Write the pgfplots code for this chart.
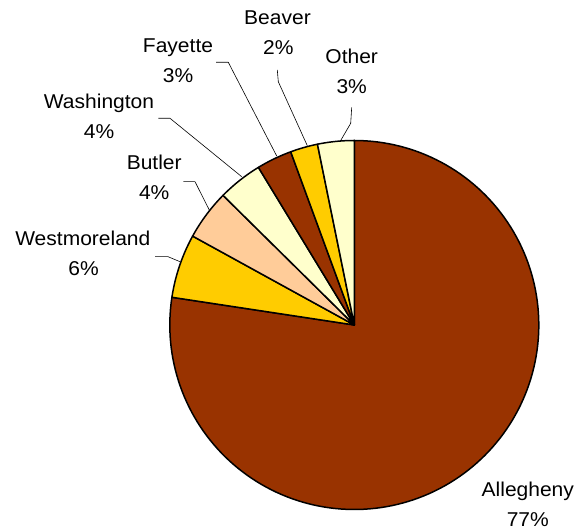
\documentclass[border=0pt]{standalone}
\usepackage{pgfplots}
\pgfplotsset{compat=1.18}
\usepackage{fontspec}
\setmainfont{Liberation Sans}[FakeStretch=1.05]
\definecolor{pbrown}{HTML}{993300}
\definecolor{pgold}{HTML}{FFCC00}
\definecolor{ppeach}{HTML}{FFCC99}
\definecolor{plight}{HTML}{FFFFCC}
% shares (percent), clockwise from 12 o'clock
\def\vAllegheny{77.4}
\def\vWestmoreland{5.6}
\def\vButler{4.4}
\def\vWashington{3.9}
\def\vFayette{3.1}
\def\vBeaver{2.4}
\def\vOther{3.2}
\pgfmathsetmacro{\aA}{0}
\pgfmathsetmacro{\aB}{\aA+3.6*\vAllegheny}
\pgfmathsetmacro{\aC}{\aB+3.6*\vWestmoreland}
\pgfmathsetmacro{\aD}{\aC+3.6*\vButler}
\pgfmathsetmacro{\aE}{\aD+3.6*\vWashington}
\pgfmathsetmacro{\aF}{\aE+3.6*\vFayette}
\pgfmathsetmacro{\aG}{\aF+3.6*\vBeaver}
\pgfmathsetmacro{\aH}{\aG+3.6*\vOther}
\def\cx{354.3}
\def\cy{204}
\def\rr{184.5}
\begin{document}
\begin{tikzpicture}[lbl/.style={font=\fontsize{20}{30}\selectfont, text=black, inner sep=0pt, anchor=base}]
\begin{axis}[
  scale only axis, width=578pt, height=529pt,
  xmin=0, xmax=578, ymin=0, ymax=529,
  hide axis, clip=false,
]
\pgfplotsset{slice/.style={draw=black, line width=1.5pt, line join=round, variable=\t}}
\addplot[slice, fill=pbrown, domain=\aA:\aB, samples=160] ({\cx+\rr*sin(t)},{\cy+\rr*cos(t)}) -- (axis cs:\cx,\cy) -- cycle;
\addplot[slice, fill=pgold, domain=\aB:\aC, samples=20] ({\cx+\rr*sin(t)},{\cy+\rr*cos(t)}) -- (axis cs:\cx,\cy) -- cycle;
\addplot[slice, fill=ppeach, domain=\aC:\aD, samples=20] ({\cx+\rr*sin(t)},{\cy+\rr*cos(t)}) -- (axis cs:\cx,\cy) -- cycle;
\addplot[slice, fill=plight, domain=\aD:\aE, samples=20] ({\cx+\rr*sin(t)},{\cy+\rr*cos(t)}) -- (axis cs:\cx,\cy) -- cycle;
\addplot[slice, fill=pbrown, domain=\aE:\aF, samples=20] ({\cx+\rr*sin(t)},{\cy+\rr*cos(t)}) -- (axis cs:\cx,\cy) -- cycle;
\addplot[slice, fill=pgold, domain=\aF:\aG, samples=20] ({\cx+\rr*sin(t)},{\cy+\rr*cos(t)}) -- (axis cs:\cx,\cy) -- cycle;
\addplot[slice, fill=plight, domain=\aG:\aH, samples=20] ({\cx+\rr*sin(t)},{\cy+\rr*cos(t)}) -- (axis cs:\cx,\cy) -- cycle;
% leader lines
\pgfplotsset{leader/.style={draw=black, line width=0.6pt, mark=none}}
\addplot[leader] coordinates {(155,272.3) (168,272.3) (180,267.3)};
\addplot[leader] coordinates {(183.3,347.3) (195,347.3) (209.3,319)};
\addplot[leader] coordinates {(158.3,410.7) (170,410.7) (241.7,352.3)};
\addplot[leader] coordinates {(216,466.7) (228.3,466.7) (276.7,373)};
\addplot[leader] coordinates {(277.3,459) (278.3,447.3) (307.3,383.3)};
\addplot[leader] coordinates {(351.7,421.7) (350.7,405.7) (340,387.3)};
% labels (two lines each, placed on their baselines)
\node[lbl] at (axis cs:527.8,32.3) {Allegheny};
\node[lbl] at (axis cs:527.8,2.6) {77\%};
\node[lbl] at (axis cs:82.8,283) {Westmoreland};
\node[lbl] at (axis cs:83.5,253) {6\%};
\node[lbl] at (axis cs:154.2,359) {Butler};
\node[lbl] at (axis cs:154.2,329) {4\%};
\node[lbl] at (axis cs:99,420.7) {Washington};
\node[lbl] at (axis cs:99,390.7) {4\%};
\node[lbl] at (axis cs:178,476.3) {Fayette};
\node[lbl] at (axis cs:178,446.3) {3\%};
\node[lbl] at (axis cs:277.5,504) {Beaver};
\node[lbl] at (axis cs:278.3,474) {2\%};
\node[lbl] at (axis cs:351.7,465.7) {Other};
\node[lbl] at (axis cs:351.7,435.7) {3\%};
\end{axis}
\pgfresetboundingbox
\path (current axis.south west) rectangle (current axis.north east);
\end{tikzpicture}
\end{document}
